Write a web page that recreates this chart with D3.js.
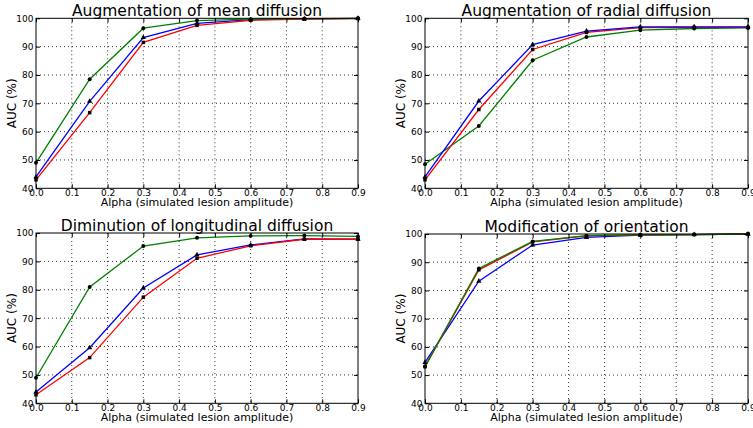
<!DOCTYPE html>
<html>
<head>
<meta charset="utf-8">
<script src="https://cdn.jsdelivr.net/npm/d3@7"></script>
<style>
  html, body { margin: 0; padding: 0; background: #fff; }
  svg { display: block; font-family: "DejaVu Sans", sans-serif; }
</style>
</head>
<body>
<svg id="chart" width="753" height="428"></svg>
<script>
// ---- data ----
const alphas = [0, 0.15, 0.3, 0.45, 0.6, 0.75, 0.9];
const xTicks = [0, 0.1, 0.2, 0.3, 0.4, 0.5, 0.6, 0.7, 0.8, 0.9];
const yTicks = [40, 50, 60, 70, 80, 90, 100];
const titles = ["Augmentation of mean diffusion", "Augmentation of radial diffusion",
                "Diminution of longitudinal diffusion", "Modification of orientation"];

const meanBlue  = [44, 70.7, 93.2, 98.2, 99.5, 99.8, 100];
const meanRed   = [43, 66.7, 91.5, 97.5, 99.3, 99.7, 99.9];
const meanGreen = [49, 78.5, 96.5, 99.2, 99.7, 99.9, 100];

const radialBlue  = [44, 70.8, 90.7, 95.5, 97.0, 97.0, 97.0];
const radialRed   = [43, 67.8, 89.0, 95.0, 96.7, 96.8, 96.8];
const radialGreen = [48.5, 62.0, 85.2, 93.4, 95.8, 96.4, 96.6];

const longBlue  = [44, 59.6, 80.6, 92.3, 95.8, 97.9, 97.8];
const longRed   = [43, 56.1, 77.4, 91.1, 95.5, 97.8, 97.8];
const longGreen = [49, 81.0, 95.4, 98.3, 99.0, 99.1, 98.8];

const orientBlue  = [54.5, 83.3, 96.1, 98.8, 99.6, 99.8, 100];
const orientRed   = [53, 87.3, 97.2, 99.3, 99.7, 99.8, 100];
const orientGreen = [53, 87.8, 97.4, 99.4, 99.7, 99.8, 100];

const seriesColors = { blue: "#0000ff", red: "#ff0000", green: "#008000" };

// ---- layout ----
const panels = [
  { title: titles[0], x0: 36,  x1: 358, y0: 18.3, y1: 188.3, series: [["blue", meanBlue, "tri"], ["red", meanRed, "sq"], ["green", meanGreen, "circ"]] },
  { title: titles[1], x0: 425, x1: 748, y0: 18.3, y1: 188.3, series: [["green", radialGreen, "circ"], ["red", radialRed, "sq"], ["blue", radialBlue, "tri"]] },
  { title: titles[2], x0: 36,  x1: 358, y0: 233,  y1: 403.3, series: [["blue", longBlue, "tri"], ["red", longRed, "sq"], ["green", longGreen, "circ"]] },
  { title: titles[3], x0: 425, x1: 748, y0: 234,  y1: 403.3, series: [["blue", orientBlue, "tri"], ["red", orientRed, "sq"], ["green", orientGreen, "circ"]] }
];

const svg = d3.select("#chart");

panels.forEach(p => {
  const x = d3.scaleLinear().domain([0, 0.9]).range([p.x0, p.x1]);
  const y = d3.scaleLinear().domain([40, 100]).range([p.y1, p.y0]);
  const g = svg.append("g");

  // grid
  g.append("g").selectAll("line.vx").data(xTicks.slice(1, -1)).join("line")
    .attr("x1", d => x(d)).attr("x2", d => x(d)).attr("y1", p.y0).attr("y2", p.y1)
    .attr("stroke", "#000").attr("stroke-width", 0.8).attr("stroke-dasharray", "1,3");
  g.append("g").selectAll("line.hy").data(yTicks.slice(1, -1)).join("line")
    .attr("x1", p.x0).attr("x2", p.x1).attr("y1", d => y(d)).attr("y2", d => y(d))
    .attr("stroke", "#000").attr("stroke-width", 0.8).attr("stroke-dasharray", "1,3");

  // lines
  const line = d3.line().x((d, i) => x(alphas[i])).y(d => y(d));
  p.series.forEach(([c, vals]) => {
    g.append("path").datum(vals).attr("d", line)
      .attr("fill", "none").attr("stroke", seriesColors[c]).attr("stroke-width", 1.3);
  });
  // markers
  p.series.forEach(([c, vals, shape]) => {
    const sym = shape === "tri" ? d3.symbolTriangle : shape === "sq" ? d3.symbolSquare : d3.symbolCircle;
    g.append("g").selectAll("path").data(vals).join("path")
      .attr("transform", (d, i) => `translate(${x(alphas[i])},${y(d)})`)
      .attr("d", d3.symbol().type(sym).size(12))
      .attr("fill", "#000");
  });

  // frame
  g.append("rect").attr("x", p.x0).attr("y", p.y0).attr("width", p.x1 - p.x0).attr("height", p.y1 - p.y0)
    .attr("fill", "none").attr("stroke", "#000").attr("stroke-width", 1);

  // axes (ticks inward)
  const xAxis = d3.axisBottom(x).tickValues(xTicks).tickFormat(d3.format(".1f")).tickSizeInner(-4).tickSizeOuter(0).tickPadding(1);
  const xg = g.append("g").attr("transform", `translate(0,${p.y1})`).call(xAxis);
  xg.select(".domain").remove();
  const xAxisTop = d3.axisTop(x).tickValues(xTicks).tickFormat("").tickSizeInner(-4).tickSizeOuter(0);
  g.append("g").attr("transform", `translate(0,${p.y0})`).call(xAxisTop).select(".domain").remove();

  const yAxis = d3.axisLeft(y).tickValues(yTicks).tickSizeInner(-4).tickSizeOuter(0).tickPadding(2.5);
  const yg = g.append("g").attr("transform", `translate(${p.x0},0)`).call(yAxis);
  yg.select(".domain").remove();
  const yAxisR = d3.axisRight(y).tickValues(yTicks).tickFormat("").tickSizeInner(-4).tickSizeOuter(0);
  g.append("g").attr("transform", `translate(${p.x1},0)`).call(yAxisR).select(".domain").remove();

  g.selectAll(".tick text").attr("font-family", "DejaVu Sans, sans-serif").attr("font-size", 9).attr("fill", "#000");
  g.selectAll(".tick line").attr("stroke", "#000");

  // title
  g.append("text").attr("x", (p.x0 + p.x1) / 2).attr("y", p.y0 - 2.5)
    .attr("text-anchor", "middle").attr("font-size", 15.5).text(p.title);
  // x label
  g.append("text").attr("x", (p.x0 + p.x1) / 2).attr("y", p.y1 + 17.5)
    .attr("text-anchor", "middle").attr("font-size", 11).text("Alpha (simulated lesion amplitude)");
  // y label
  g.append("text").attr("transform", `translate(${p.x0 - 20.5},${(p.y0 + p.y1) / 2}) rotate(-90)`)
    .attr("text-anchor", "middle").attr("font-size", 12).text("AUC (%)");
});
</script>
</body>
</html>
